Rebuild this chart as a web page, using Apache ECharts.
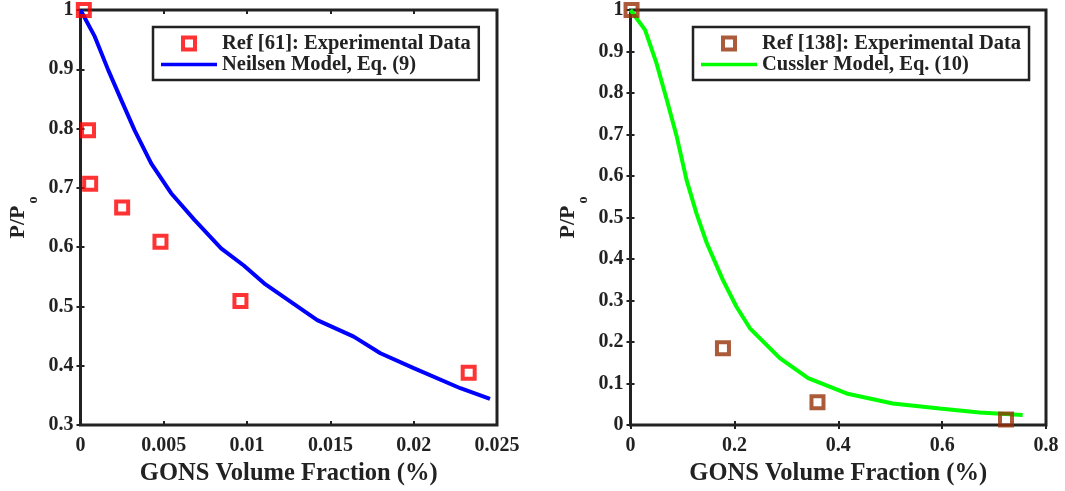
<!DOCTYPE html>
<html>
<head>
<meta charset="utf-8">
<script src="https://cdn.jsdelivr.net/npm/echarts@6/dist/echarts.min.js"></script>
<style>
  html, body { margin: 0; padding: 0; background: #fff; }
  #chart { width: 1065px; height: 491px; }
</style>
</head>
<body>
<div id="chart"></div>
<script>
// ---- Left panel: Neilsen model vs. Ref [61] measurements ----
const neilsenX = [0, 0.00086, 0.00166, 0.00245, 0.00325, 0.00425, 0.00544, 0.00684, 0.00844, 0.0098, 0.01102, 0.01421, 0.0164, 0.018, 0.02, 0.0228, 0.02458];
const neilsenY = [1.0, 0.955, 0.899, 0.848, 0.797, 0.741, 0.691, 0.646, 0.598, 0.569, 0.539, 0.477, 0.449, 0.421, 0.396, 0.362, 0.344];
const ref61X = [0.0002, 0.00045, 0.00058, 0.0025, 0.0048, 0.0096, 0.0233];
const ref61Y = [1.0, 0.797, 0.707, 0.667, 0.609, 0.509, 0.388];

// ---- Right panel: Cussler model vs. Ref [138] measurements ----
const cusslerX = [0, 0.028, 0.05, 0.07, 0.089, 0.108, 0.127, 0.147, 0.178, 0.204, 0.23, 0.2875, 0.342, 0.416, 0.505, 0.595, 0.672, 0.755];
const cusslerY = [1.0, 0.952, 0.872, 0.783, 0.695, 0.59, 0.51, 0.438, 0.349, 0.285, 0.233, 0.161, 0.113, 0.076, 0.052, 0.04, 0.03, 0.024];
const ref138X = [0.002, 0.178, 0.36, 0.723];
const ref138Y = [1.0, 0.185, 0.055, 0.013];

// ---- Tick values ----
const leftXTicks = [0, 0.005, 0.01, 0.015, 0.02, 0.025];
const leftYTicks = [0.3, 0.4, 0.5, 0.6, 0.7, 0.8, 0.9, 1];
const rightXTicks = [0, 0.2, 0.4, 0.6, 0.8];
const rightYTicks = [0, 0.1, 0.2, 0.3, 0.4, 0.5, 0.6, 0.7, 0.8, 0.9, 1];

// ---- Labels ----
const xTitle = 'GONS Volume Fraction (%)';
const leftNames = ['Ref [61]: Experimental Data', 'Neilsen Model, Eq. (9)'];
const rightNames = ['Ref [138]: Experimental Data', 'Cussler Model, Eq. (10)'];

const FONT = '"Liberation Serif", "Times New Roman", serif';
const INK = '#222';

// legend glyphs: a hollow square for measurements, a plain stroke for models
const SQUARE_ICON = 'path://M0,0H10V10H0Z';
const STROKE_ICON = 'path://M0,0H16V1H0Z';

const zip = (xs, ys) => xs.map((x, i) => [x, ys[i]]);
const step = t => Math.round((t[1] - t[0]) * 1e6) / 1e6;

const tickLabel = { fontFamily: FONT, fontWeight: 'bold', fontSize: 20, color: INK };
const innerTick = { show: true, inside: true, length: 4, lineStyle: { color: INK, width: 2 } };

function xAxesFor(gi, ticks) {
  const base = {
    type: 'value', gridIndex: gi,
    min: ticks[0], max: ticks[ticks.length - 1], interval: step(ticks),
    splitLine: { show: false }, axisLine: { show: false }, axisTick: innerTick
  };
  return [
    Object.assign({}, base, {
      position: 'bottom',
      axisLabel: Object.assign({ margin: 11 }, tickLabel),
      name: xTitle, nameLocation: 'middle', nameGap: 32,
      nameTextStyle: { fontFamily: FONT, fontWeight: 'bold', fontSize: 24.5, color: INK }
    }),
    Object.assign({}, base, { position: 'top', axisLabel: { show: false } })
  ];
}

function yAxesFor(gi, ticks) {
  const base = {
    type: 'value', gridIndex: gi,
    min: ticks[0], max: ticks[ticks.length - 1], interval: step(ticks),
    splitLine: { show: false }, axisLine: { show: false }, axisTick: innerTick
  };
  return [
    Object.assign({}, base, {
      position: 'left',
      axisLabel: Object.assign({ margin: 7 }, tickLabel),
      name: '{m|P/P}{s|o}', nameLocation: 'middle', nameGap: 40,
      nameTextStyle: {
        rich: {
          m: { fontFamily: FONT, fontWeight: 'bold', fontSize: 22, color: INK, lineHeight: 44 },
          s: { fontFamily: FONT, fontWeight: 'bold', fontSize: 14, color: INK, verticalAlign: 'top', padding: [30, 0, 0, 2] }
        }
      }
    }),
    Object.assign({}, base, { position: 'right', axisLabel: { show: false } })
  ];
}

function legendFor(left, names, markerColor) {
  return {
    data: [
      { name: names[0], icon: SQUARE_ICON, itemStyle: { color: 'rgba(255,255,255,0)', borderColor: markerColor, borderWidth: 4 } },
      { name: names[1], icon: STROKE_ICON, itemStyle: { borderWidth: 0 } }
    ],
    left: left, top: 27, orient: 'vertical', symbolKeepAspect: true,
    backgroundColor: '#fff', borderColor: INK, borderWidth: 2.5, borderRadius: 0,
    padding: [6, 8, 5, 8], itemGap: 0, itemWidth: 56, itemHeight: 12,
    textStyle: { fontFamily: FONT, fontWeight: 'bold', fontSize: 20.5, color: INK },
    selectedMode: false
  };
}

function markerSeries(name, xs, ys, color, xi, yi) {
  return {
    name: name, type: 'scatter', xAxisIndex: xi, yAxisIndex: yi,
    data: zip(xs, ys), symbol: 'rect', symbolSize: 12, clip: false, z: 5,
    itemStyle: { color: 'rgba(255,255,255,0)', borderColor: color, borderWidth: 4 }
  };
}

function curveSeries(name, xs, ys, color, xi, yi) {
  return {
    name: name, type: 'line', xAxisIndex: xi, yAxisIndex: yi,
    data: zip(xs, ys), symbol: 'none', showSymbol: false, smooth: false, clip: false, z: 3,
    lineStyle: { color: color, width: 4 }, itemStyle: { color: color }
  };
}

const RED = '#ff0000', BROWN = '#963208';
const gridStyle = { show: true, borderColor: INK, borderWidth: 3, backgroundColor: '#fff', containLabel: false };

const option = {
  animation: false,
  backgroundColor: '#fff',
  grid: [
    Object.assign({ left: 80.5, right: 568, top: 10, bottom: 66 }, gridStyle),
    Object.assign({ left: 630.5, right: 19, top: 10, bottom: 66 }, gridStyle)
  ],
  xAxis: [].concat(xAxesFor(0, leftXTicks), xAxesFor(1, rightXTicks)),
  yAxis: [].concat(yAxesFor(0, leftYTicks), yAxesFor(1, rightYTicks)),
  legend: [legendFor(153, leftNames, RED), legendFor(693, rightNames, BROWN)],
  series: [
    curveSeries(leftNames[1], neilsenX, neilsenY, '#0000ff', 0, 0),
    markerSeries(leftNames[0], ref61X, ref61Y, RED, 0, 0),
    curveSeries(rightNames[1], cusslerX, cusslerY, '#00ff00', 2, 2),
    markerSeries(rightNames[0], ref138X, ref138Y, BROWN, 2, 2)
  ]
};

const chart = echarts.init(document.getElementById('chart'), null, { renderer: 'canvas' });
chart.setOption(option);
</script>
</body>
</html>
